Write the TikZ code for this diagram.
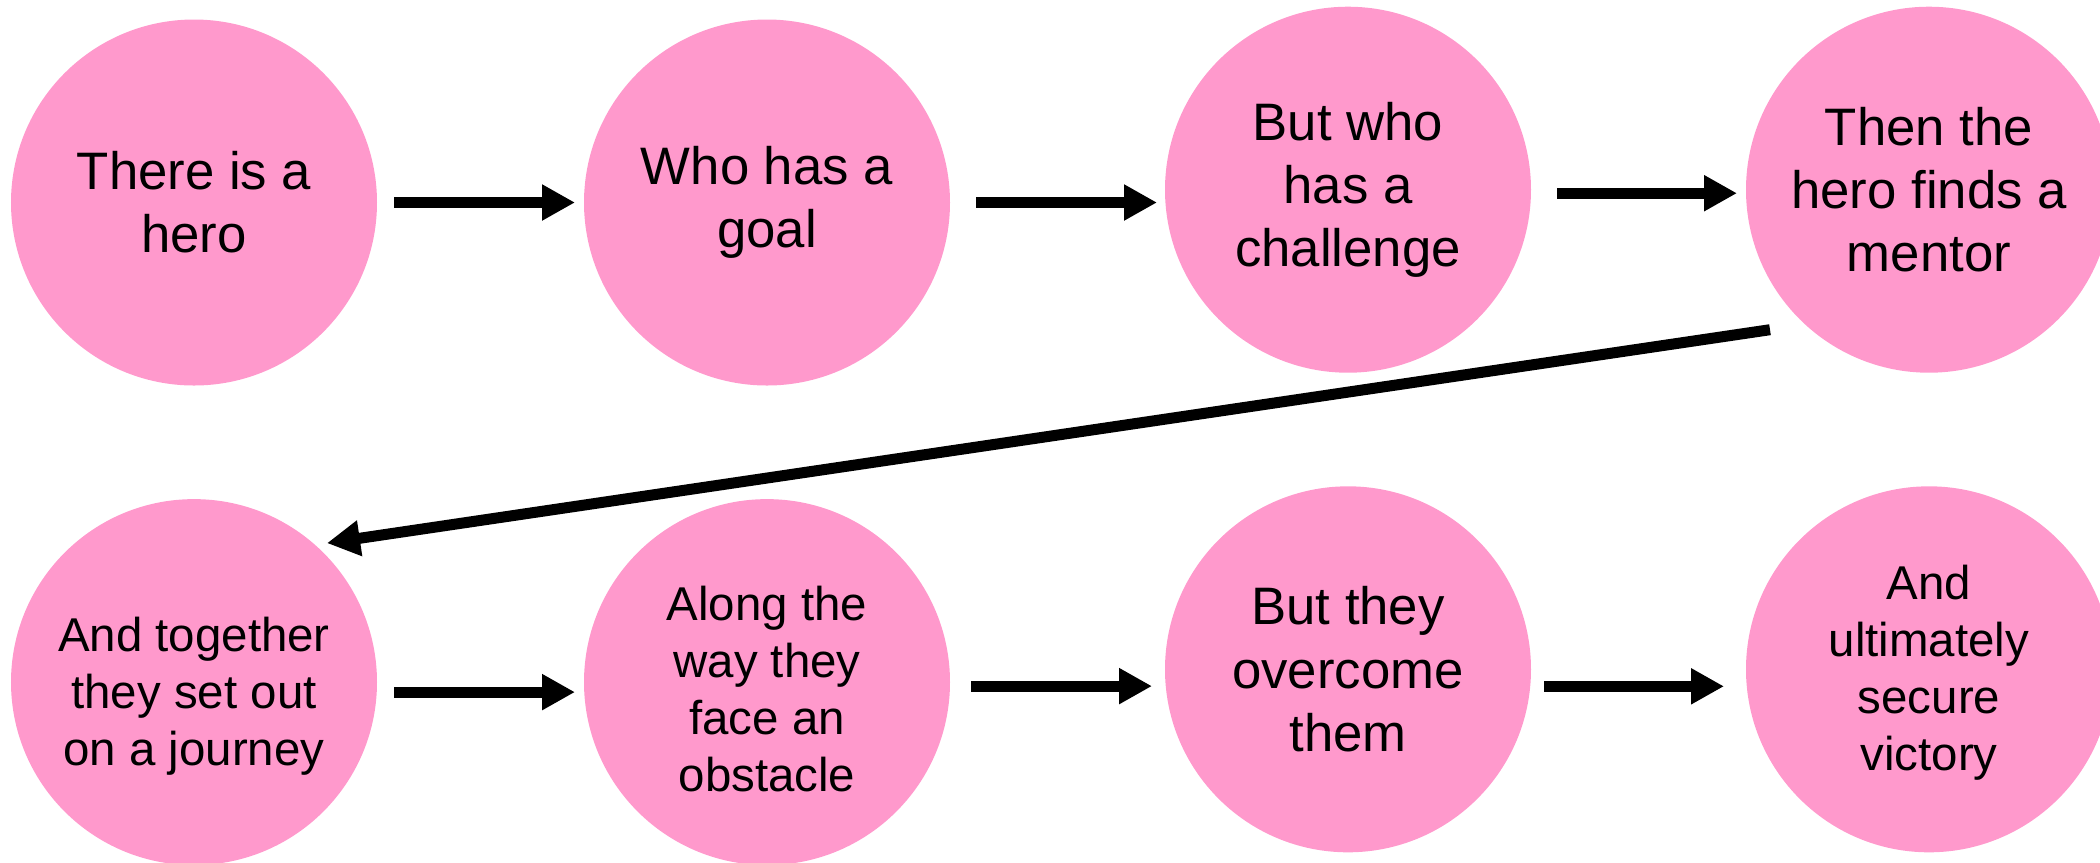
\documentclass[tikz,border=0pt]{standalone}
\usepackage{fontspec}
\setmainfont{Liberation Sans}
\usetikzlibrary{arrows.meta, positioning}
\definecolor{storypink}{HTML}{FF99CC}

\begin{document}
\begin{tikzpicture}[
    node distance=2.15cm,
    stage/.style ={circle, fill=storypink, minimum size=3.66cm, inner sep=0pt, outer sep=0pt, align=center, font=\fontsize{15}{18}\selectfont},
    longtext/.style ={font=\fontsize{13.5}{16.2}\selectfont},
    link/.style ={draw, line width=0.11cm, -{Triangle[length=0.33cm, width=0.34cm]}},
]
\useasboundingbox (0,0) rectangle (21,-8.62);

% Nodes
\node [stage] (hero) at (1.94,-2.025) {There is a\\hero};
\node [stage, right=2.07cm of hero] (goal) {Who has a\\goal};
\node [stage, right=of goal, yshift=0.128cm] (challenge) {But who\\has a\\challenge};
\node [stage, right=of challenge] (mentor) {Then the\\hero finds a\\mentor};
\node [stage, longtext, below=1.136cm of hero] (journey) {\rule{0pt}{0.62cm}And together\\they set out\\on a journey};
\node [stage, longtext, right=2.07cm of journey] (obstacle) {\rule{0pt}{0.48cm}Along the\\way they\\face an\\obstacle};
\node [stage, right=of obstacle, yshift=0.128cm] (overcome) {But they\\overcome\\them};
\node [stage, longtext, right=of overcome] (victory) {\rule{0pt}{0.42cm}And\\ultimately\\secure\\victory};

% Lines
\path [link] ([xshift=0.17cm]hero.east) -- ([xshift=-0.09cm]goal.west);
\path [link] ([xshift=0.26cm]goal.east) -- ([xshift=-0.08cm]challenge.west |- goal.east);
\path [link] ([xshift=0.26cm, yshift=-0.035cm]challenge.east) -- ([xshift=-0.09cm, yshift=-0.035cm]mentor.west);
\path [link] ([xshift=0.17cm, yshift=-0.1cm]journey.east) -- ([xshift=-0.09cm, yshift=-0.1cm]obstacle.west);
\path [link] ([xshift=0.21cm, yshift=-0.04cm]obstacle.east) -- ([xshift=-0.13cm, yshift=-0.04cm]overcome.west |- obstacle.east);
\path [link] ([xshift=0.13cm, yshift=-0.17cm]overcome.east) -- ([xshift=-0.22cm, yshift=-0.17cm]victory.west);

% Back to the start of the second row
\path [link] ([xshift=-1.59cm, yshift=-1.40cm]mentor.center) -- ([xshift=1.33cm, yshift=1.39cm]journey.center);

\end{tikzpicture}
\end{document}
